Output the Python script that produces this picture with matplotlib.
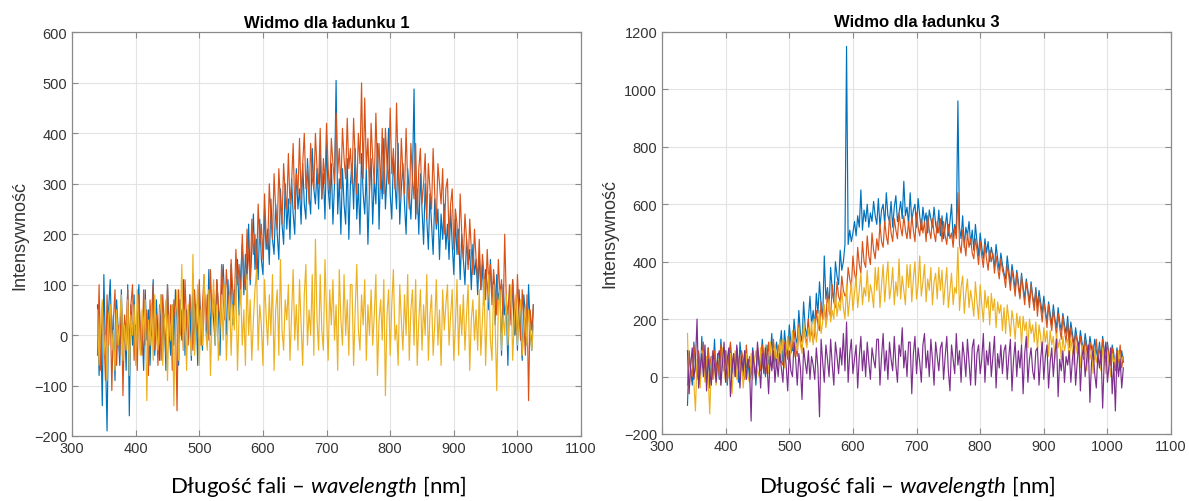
import numpy as np
from matplotlib import pyplot as plt

plt.rcParams['font.family'] = ['Liberation Sans', 'DejaVu Sans']
plt.rcParams['mathtext.fontset'] = 'custom'
plt.rcParams['mathtext.rm'] = 'Lato'
plt.rcParams['mathtext.it'] = 'Lato:italic'

# wavelength grid of the read-off samples, 340..1025 nm every 2.5 nm
wl = np.arange(340, 1025.1, 2.5)

# ---- Widmo dla ladunku 1 ----  (one row = 50 nm)
L1_blue = [
    60, -80, 20, -140, 120, -30, -190, 50, 110, -20, 40, -90, 70, 10, -60, 90, -40, 30, -70, 100,
    -160, 60, -20, 80, -50, 40, 100, -30, 20, -70, 90, -10, 50, -60, 30, 110, -40, 70, 0, -50,
    80, -30, 40, -70, 100, 10, -40, 60, -20, 90, 30, -60, 70, -10, 110, -40, 50, 0, 80, -50,
    120, -20, 60, -60, 90, 20, -30, 100, 40, -10, 130, 0, 70, 30, -20, 110, 50, -40, 90, 140,
    60, 0, 110, 30, 140, 20, 90, 70, 150, 40, 120, 180, 80, 160, 110, 220, 100, 170, 240, 130,
    190, 110, 230, 150, 120, 250, 170, 210, 140, 270, 190, 160, 260, 200, 150, 290, 220, 180, 300, 210,
    270, 190, 310, 240, 200, 330, 250, 290, 220, 340, 260, 230, 350, 280, 240, 370, 290, 260, 330, 250,
    360, 270, 320, 230, 380, 290, 250, 340, 220, 300, 505, 240, 310, 200, 330, 260, 220, 350, 190, 300,
    340, 250, 370, 230, 300, 200, 360, 280, 240, 330, 180, 290, 350, 220, 310, 260, 380, 210, 330, 270,
    390, 250, 320, 410, 280, 230, 350, 300, 250, 380, 220, 290, 340, 260, 200, 330, 280, 230, 310, 488,
    230, 290, 200, 320, 250, 180, 300, 230, 170, 280, 220, 160, 270, 210, 250, 150, 240, 190, 260, 170,
    220, 150, 250, 180, 120, 230, 160, 210, 110, 200, 150, 100, 190, 140, 170, 90, 180, 120, 150, 80,
    160, 90, 140, 60, 130, 100, 50, 150, 80, 110, 20, 120, 70, 90, -40, 100, 40, 60, -60, 80,
    30, 110, 0, 70, -30, 90, 20, -50, 80, 40, -20, 100, 10, -30, 60]
L1_orange = [
    -40, 100, -70, 50, 10, -90, 80, -20, 60, -110, 30, 90, -60, 20, -40, 70, -120, 40, 0, 90,
    -30, 60, 100, -50, 20, -70, 80, 10, -40, 90, -20, 50, -80, 70, 0, 100, -30, 40, -60, 60,
    -50, 80, 20, -40, 100, -10, 60, -70, 70, 30, -150, 90, 0, 50, -30, 110, 20, -20, 80, 40,
    -30, 90, 30, 0, 110, -20, 60, 120, 10, 80, -10, 130, 40, 90, 0, 110, 60, 20, 140, 70,
    30, 130, 80, 40, 150, 90, 60, 170, 100, 140, 70, 200, 120, 90, 210, 150, 110, 230, 160, 200,
    130, 260, 180, 220, 150, 280, 200, 170, 300, 230, 190, 320, 250, 210, 330, 260, 220, 340, 280, 250,
    360, 260, 300, 380, 250, 320, 280, 390, 270, 340, 400, 290, 330, 260, 380, 310, 290, 400, 330, 300,
    410, 270, 350, 300, 420, 330, 280, 390, 340, 300, 440, 320, 370, 290, 410, 350, 310, 430, 330, 370,
    300, 430, 350, 280, 400, 340, 500, 310, 470, 330, 390, 280, 420, 350, 300, 440, 330, 380, 290, 410,
    280, 410, 340, 300, 450, 320, 370, 290, 460, 330, 270, 390, 320, 280, 410, 300, 250, 380, 310, 270,
    380, 240, 330, 370, 260, 300, 360, 230, 340, 290, 250, 370, 280, 220, 340, 300, 260, 330, 200, 290,
    310, 190, 260, 290, 170, 250, 220, 160, 280, 200, 150, 240, 190, 130, 230, 170, 120, 210, 150, 110,
    190, 90, 160, 120, 70, 170, 100, 140, 60, 130, 90, 40, 150, 80, 110, 30, 200, 70, 40, 100,
    20, 110, 60, 0, 120, 40, -10, 90, 30, -40, 80, -130, 50, 10, 60]
L1_yellow = [
    50, -60, 20, 70, -40, 0, -90, 40, 60, -30, 10, -70, 50, -20, 30, 80, -50, 20, -30, 70,
    -80, 40, 0, 60, -60, 90, 10, -40, 50, -10, 70, -130, 30, -20, 60, -50, 80, 0, -30, 40,
    80, -60, 20, 70, -90, 40, -10, 60, -140, 30, 90, -50, 10, 140, -30, 50, -70, 60, 0, -40,
    160, -40, 30, 100, -60, 50, -20, 120, 10, -30, 90, -80, 40, 110, -20, 60, -50, 20, 80, -10,
    100, -50, 30, 80, -40, 60, 10, 110, -70, 40, 90, -20, 50, -60, 120, 0, 70, -50, 30, 90,
    130, -30, 60, 20, -60, 110, 40, -20, 80, 0, 120, -70, 50, 90, -40, 150, 10, -30, 70, 30,
    100, -50, 40, 130, -10, 60, -30, 110, 20, -60, 80, 140, -20, 50, 0, 120, -40, 190, 30, -30,
    120, 10, -30, 150, 40, -50, 90, 20, 110, -10, 60, -70, 130, 30, -20, 120, 0, 70, -40, 100,
    100, -60, 50, 140, 10, -30, 80, 20, 110, -50, 60, 0, 90, -20, 40, 120, -80, 30, 70, -10,
    110, -120, 40, 90, -40, 60, 130, -10, 20, -60, 100, 30, -30, 80, 0, 120, -50, 50, 90, -20,
    110, -60, 30, 90, -30, 60, 0, 120, -50, 40, 80, -40, 20, 110, -20, 50, -60, 90, 10, 60,
    100, -20, 40, 90, -50, 20, 110, -40, 60, 0, 80, -30, 40, 100, -70, 30, 70, -10, 50, -30,
    90, -40, 30, 110, -60, 50, 120, -10, -50, 100, 20, -110, 60, 90, -30, 40, 0, 80, -20, 50,
    100, -50, 30, 80, -20, 40, 70, -40, 10, 60, -20, 50, 10, -30, 20]

# ---- Widmo dla ladunku 3 ----
L3_blue = [
    -100, 90, 20, -30, 120, 40, 0, 80, -20, 140, 30, 60, 10, 100, -40, 70, 20, 130, -10, 80,
    -10, 130, 40, 20, 90, -30, 60, 110, 10, 70, 30, 80, -20, 120, 50, 0, 90, 30, 60, -10,
    10, 100, 50, -30, 90, 40, 20, 130, 60, 0, 110, 40, 70, 150, 30, 80, 120, 50, 100, 160,
    50, 160, 100, 70, 180, 120, 90, 200, 140, 110, 230, 150, 120, 260, 170, 140, 200, 280, 180, 230,
    170, 290, 220, 330, 250, 200, 420, 270, 310, 240, 380, 300, 260, 400, 350, 320, 440, 370, 400, 460,
    1150, 460, 510, 470, 500, 540, 490, 560, 520, 650, 510, 580, 540, 600, 520, 570, 540, 610, 560, 530,
    620, 520, 580, 600, 530, 640, 560, 540, 610, 520, 590, 630, 540, 570, 610, 550, 680, 560, 590, 530,
    640, 540, 580, 600, 520, 620, 560, 510, 590, 540, 570, 500, 580, 550, 520, 590, 530, 500, 580, 490,
    560, 480, 520, 570, 490, 540, 600, 480, 530, 500, 960, 520, 480, 560, 450, 520, 490, 540, 460, 510,
    440, 530, 470, 420, 500, 450, 410, 480, 430, 470, 400, 450, 420, 380, 460, 410, 370, 430, 390, 360,
    340, 420, 370, 320, 390, 350, 300, 370, 330, 280, 360, 310, 270, 340, 300, 260, 330, 280, 250, 310,
    240, 300, 260, 220, 280, 230, 190, 260, 220, 180, 250, 200, 170, 240, 190, 160, 220, 180, 150, 210,
    130, 190, 150, 110, 170, 130, 100, 160, 120, 90, 150, 110, 80, 140, 100, 70, 130, 90, 60, 120,
    60, 140, 90, 50, 120, 70, 40, 110, 80, 30, 100, 60, 20, 90, 50]
L3_orange = [
    -30, 80, 30, 0, 110, 50, -10, 90, 20, 60, 120, 10, -20, 100, 40, 70, -10, 90, 30, 60,
    0, 110, 50, 20, 90, -20, 60, 120, 30, 80, 0, 100, 40, 10, 90, 60, -10, 110, 30, 70,
    10, 90, 40, 0, 100, 60, 20, 110, 50, 80, 10, 120, 60, 30, 130, 70, 40, 110, 80, 50,
    40, 120, 90, 60, 140, 80, 110, 160, 100, 70, 180, 120, 90, 170, 140, 110, 200, 130, 160, 120,
    150, 230, 180, 160, 260, 200, 240, 190, 300, 230, 210, 320, 260, 240, 330, 280, 260, 350, 300, 280,
    290, 380, 340, 310, 420, 360, 330, 450, 390, 360, 470, 400, 380, 490, 420, 390, 500, 440, 410, 480,
    440, 530, 470, 450, 540, 490, 460, 560, 500, 470, 550, 510, 480, 570, 520, 490, 560, 510, 480, 540,
    480, 560, 510, 470, 570, 520, 490, 550, 500, 540, 470, 560, 510, 480, 550, 500, 470, 540, 500, 550,
    470, 540, 490, 460, 530, 480, 500, 450, 520, 480, 640, 460, 430, 510, 470, 420, 500, 450, 480, 430,
    410, 480, 440, 390, 470, 420, 380, 460, 410, 370, 440, 400, 430, 360, 420, 380, 340, 410, 370, 350,
    310, 390, 350, 300, 370, 330, 280, 360, 310, 270, 350, 300, 250, 330, 290, 240, 320, 270, 230, 300,
    210, 280, 240, 190, 260, 220, 170, 250, 200, 160, 230, 190, 140, 220, 170, 130, 210, 160, 120, 190,
    100, 170, 130, 90, 150, 120, 80, 140, 100, 60, 130, 90, 50, 120, 80, 110, 60, 130, 70, 100,
    40, 130, 80, 30, 110, 70, 40, 100, 60, 20, 90, 50, 110, 30, 70]
L3_yellow = [
    150, -60, 40, 80, -20, -120, 60, 10, -40, 90, 30, -20, 70, 0, -130, 50, 90, 20, -30, 60,
    60, -30, 100, 20, -20, 70, 0, 80, -60, 40, 90, -10, 50, 10, 70, -40, 30, 80, 0, -20,
    80, -10, 50, 90, 20, 0, 100, 40, 20, 110, 60, 10, 120, 50, 30, 110, 70, 40, 130, 60,
    130, 30, 90, 140, 50, 100, 160, 70, 120, 90, 170, 110, 80, 190, 130, 100, 170, 120, 190, 110,
    200, 120, 170, 230, 150, 190, 250, 170, 210, 270, 190, 230, 200, 290, 210, 260, 230, 300, 240, 200,
    320, 210, 270, 330, 230, 290, 350, 240, 300, 360, 250, 310, 280, 370, 260, 320, 290, 240, 380, 300,
    380, 240, 320, 390, 260, 340, 400, 270, 310, 380, 250, 330, 280, 410, 270, 350, 300, 250, 390, 310,
    390, 260, 340, 400, 270, 320, 420, 280, 330, 390, 260, 340, 300, 380, 250, 330, 360, 270, 380, 300,
    370, 250, 320, 380, 240, 300, 360, 250, 310, 290, 450, 230, 310, 350, 220, 290, 340, 240, 300, 260,
    210, 330, 260, 200, 320, 250, 190, 300, 240, 280, 180, 290, 230, 270, 170, 260, 220, 250, 160, 240,
    150, 250, 200, 140, 230, 190, 130, 220, 170, 210, 110, 210, 160, 190, 100, 200, 150, 180, 120, 190,
    90, 180, 140, 80, 170, 120, 160, 70, 160, 110, 140, 60, 150, 100, 130, 60, 140, 90, 120, 130,
    50, 130, 90, 40, 120, 80, 110, 30, 110, 70, 100, 20, 100, 60, 90, 10, 90, 50, 80, 40,
    20, 100, 60, 10, 90, 50, 0, 80, 40, 70, 10, 90, 40, 60, 70]
L3_purple = [
    90, -60, 40, 100, -10, 50, 200, -40, 30, 80, 0, 110, -50, 60, 20, -30, 90, 40, -20, 70,
    90, -30, 50, 120, -20, 60, 100, -70, 30, 80, 0, 110, 40, -40, 70, 20, 90, -10, 60, 30,
    -155, 90, 30, -10, 120, 50, -40, 80, 10, 100, 40, -60, 70, 20, 90, -20, 60, 0, 80, 30,
    -20, 110, 40, -50, 90, 20, 0, 120, 60, -30, 80, 30, -80, 100, 50, 10, 90, -10, 70, 40,
    -10, 100, 30, -140, 130, 50, -20, 110, 60, 0, 130, 40, -30, 120, 70, 10, 100, 40, 150, 20,
    190, -20, 80, 130, 10, 60, 110, -40, 70, 140, 20, 90, 0, 120, 50, -10, 100, 60, 30, 130,
    130, -30, 70, 150, 20, 90, -10, 120, 60, 20, 140, 40, -20, 110, 70, 170, 30, 90, 0, 120,
    120, -60, 80, 140, 10, 100, 50, -20, 110, 150, 30, 90, 0, 130, 60, -30, 120, 70, 20, 100,
    120, -10, 70, 140, 20, -50, 110, 60, 10, 150, 40, 90, -20, 120, 70, 0, 130, 50, -30, 100,
    130, -30, 80, 110, 10, 60, 150, -20, 90, 40, 120, 0, 70, 140, -40, 80, 30, 110, 10, 90,
    110, -10, 70, 130, -50, 60, 120, 0, 90, 30, 110, -60, 80, 140, -20, 60, 100, 20, -10, 90,
    100, -30, 60, 120, -10, 70, 110, -40, 50, 100, 0, 80, 130, -70, 60, 20, 90, -20, 70, 40,
    90, -20, 60, 110, -30, 50, 120, -50, 70, 100, 0, 60, 110, -90, 50, 90, 10, -40, 80, 30,
    90, -110, 60, 120, -20, 40, 100, -60, 50, -120, 80, 0, 60, -40, 30]

colors = ['#0072BD', '#D95319', '#EDB120', '#7E2F8E']

panels = [
    ("Widmo dla ładunku 1", [L1_blue, L1_orange, L1_yellow], (-200, 600), 100),
    ("Widmo dla ładunku 3", [L3_blue, L3_orange, L3_yellow, L3_purple], (-200, 1200), 200),
]
rects = [[0.0606, 0.1295, 0.4281, 0.8038], [0.5568, 0.1335, 0.4281, 0.8008]]
xlab_x = [0.2675, 0.763]

fig = plt.figure(figsize=(11.89, 5.02), dpi=100)

for (title, series, ylim, ystep), rect, lx in zip(panels, rects, xlab_x):
    ax = fig.add_axes(rect)
    for s, c in zip(series, colors):
        ax.plot(wl, s, color=c, lw=0.85)
    ax.set_xlim(300, 1100)
    ax.set_ylim(*ylim)
    ax.set_xticks(np.arange(300, 1101, 100))
    ax.set_yticks(np.arange(ylim[0], ylim[1] + 1, ystep))
    ax.grid(True, color='#e3e3e3', lw=0.8)
    ax.set_axisbelow(True)
    for sp in ax.spines.values():
        sp.set_color('#8a8a8a')
        sp.set_linewidth(0.9)
    ax.tick_params(direction='in', top=True, right=True, length=4,
                   color='#8a8a8a', labelsize=10.5, labelcolor='#333333')
    ax.set_title(title, fontsize=12, fontweight='bold', pad=4)
    ax.set_ylabel("Intensywność", fontsize=13, color='#333333', labelpad=4)
    fig.text(lx, 0.03, "Długość fali – $\\it{wavelength}$ [nm]",
             family='Lato', fontsize=16, ha='center', va='center')

fig.savefig("out.png", dpi=100)
